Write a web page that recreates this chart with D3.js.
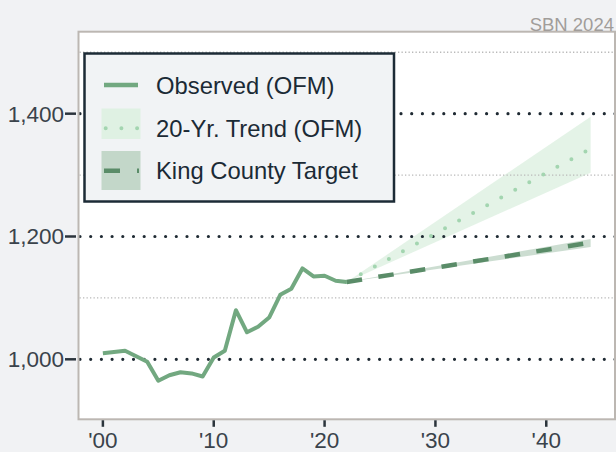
<!DOCTYPE html>
<html>
<head>
<meta charset="utf-8">
<script src="https://cdn.jsdelivr.net/npm/d3@7"></script>
<style>
  html, body { margin: 0; padding: 0; background: #f1f2f4; }
  svg { display: block; font-family: "Liberation Sans", Arial, sans-serif; }
</style>
</head>
<body>
<svg id="chart" width="616" height="452"></svg>
<script>
// ---- data ----
const years = [2000, 2001, 2002, 2003, 2004, 2005, 2006, 2007, 2008, 2009, 2010,
               2011, 2012, 2013, 2014, 2015, 2016, 2017, 2018, 2019, 2020, 2021, 2022];
const observed = [1010, 1012, 1014, 1005, 996, 965, 974, 979, 977, 972, 1003,
                  1014, 1080, 1044, 1053, 1068, 1105, 1115, 1148, 1135, 1136, 1128, 1126];

const trendYears = [2022, 2044];
const trendMid  = [1126, 1343];
const trendLow  = [1126, 1304];
const trendHigh = [1126, 1395];

const targetYears = [2022, 2044];
const targetMid  = [1126, 1190];
const targetLow  = [1126, 1183];
const targetHigh = [1126, 1196];

const xTicks = [2000, 2010, 2020, 2030, 2040];
const xTickLabels = ["'00", "'10", "'20", "'30", "'40"];
const yMajor = [1000, 1200, 1400];
const yMajorLabels = ["1,000", "1,200", "1,400"];
const yMinor = [1100, 1300, 1500];

const legendLabels = ["Observed (OFM)", "20-Yr. Trend (OFM)", "King County Target"];
const sourceNote = "SBN 2024";

// ---- layout ----
const plot = { left: 78.5, right: 615, top: 31.7, bottom: 419.3 };
const svg = d3.select("#chart");

const x = d3.scaleLinear().domain([1997.8, 2046.2]).range([plot.left, plot.right]);
const y = d3.scaleLinear().domain([902.3, 1533.5]).range([plot.bottom, plot.top]);

// plot background
svg.append("rect")
  .attr("x", plot.left).attr("y", plot.top)
  .attr("width", plot.right - plot.left).attr("height", plot.bottom - plot.top)
  .attr("fill", "#ffffff");

// bands
const band = (xs, lo, hi) => d3.area()
  .x((d, i) => x(xs[i])).y0((d, i) => y(lo[i])).y1((d, i) => y(hi[i]))(xs);

svg.append("path").attr("d", band(trendYears, trendLow, trendHigh))
  .attr("fill", "#dff1e3").attr("opacity", 0.85);
svg.append("path").attr("d", band(targetYears, targetLow, targetHigh))
  .attr("fill", "#c3d7c9").attr("opacity", 0.85);

// gridlines
svg.append("g").selectAll("line").data(yMinor).join("line")
  .attr("x1", plot.left + 1).attr("x2", plot.right)
  .attr("y1", d => y(d)).attr("y2", d => y(d))
  .attr("stroke", "#b9b9b9").attr("stroke-width", 1.3)
  .attr("stroke-dasharray", "1.3,2.2");

svg.append("g").selectAll("line").data(yMajor).join("line")
  .attr("x1", plot.left + 1.5).attr("x2", plot.right)
  .attr("y1", d => y(d)).attr("y2", d => y(d))
  .attr("stroke", "#1f2a33").attr("stroke-width", 3.2)
  .attr("stroke-linecap", "round")
  .attr("stroke-dasharray", "0,10.7");

// frame
svg.append("rect")
  .attr("x", plot.left).attr("y", plot.top)
  .attr("width", plot.right - plot.left).attr("height", plot.bottom - plot.top)
  .attr("fill", "none").attr("stroke", "#bcb7b2").attr("stroke-width", 2);

// lines
const lineGen = (xs, vs) => d3.line().x((d, i) => x(xs[i])).y((d, i) => y(vs[i]))(xs);

svg.append("path").attr("d", lineGen(trendYears, trendMid))
  .attr("fill", "none").attr("stroke", "#a3d5b0").attr("stroke-width", 4)
  .attr("stroke-linecap", "round").attr("stroke-dasharray", "0,16");

svg.append("path").attr("d", lineGen(targetYears, targetMid))
  .attr("fill", "none").attr("stroke", "#5a8c68").attr("stroke-width", 4.5)
  .attr("stroke-dasharray", "15.5,16.5");

svg.append("path").attr("d", lineGen(years, observed))
  .attr("fill", "none").attr("stroke", "#72a880").attr("stroke-width", 4)
  .attr("stroke-linejoin", "round");

// y axis
const yAxis = svg.append("g");
yAxis.selectAll("line").data(yMajor).join("line")
  .attr("x1", 65).attr("x2", 76)
  .attr("y1", d => y(d)).attr("y2", d => y(d))
  .attr("stroke", "#2b343c").attr("stroke-width", 2.5);
yAxis.selectAll("text").data(yMajor).join("text")
  .attr("x", 64).attr("y", d => y(d)).attr("dy", "0.35em")
  .attr("text-anchor", "end").attr("font-size", 22.5).attr("fill", "#3a434b")
  .text((d, i) => yMajorLabels[i]);

// x axis
const xAxis = svg.append("g");
xAxis.selectAll("line").data(xTicks).join("line")
  .attr("x1", d => x(d)).attr("x2", d => x(d))
  .attr("y1", plot.bottom + 1).attr("y2", plot.bottom + 7.5)
  .attr("stroke", "#2b343c").attr("stroke-width", 2.5);
xAxis.selectAll("text").data(xTicks).join("text")
  .attr("x", d => x(d)).attr("y", 448)
  .attr("text-anchor", "middle").attr("font-size", 22.5).attr("fill", "#3a434b")
  .text((d, i) => xTickLabels[i]);

// source note
svg.append("text").attr("x", 614).attr("y", 30.5)
  .attr("text-anchor", "end").attr("font-size", 18.5).attr("fill", "#a19d9a")
  .text(sourceNote);

// legend
const lg = svg.append("g");
lg.append("rect").attr("x", 84.5).attr("y", 53.5).attr("width", 309.5).attr("height", 148)
  .attr("fill", "#f1f3f5").attr("stroke", "#1c2b36").attr("stroke-width", 2.5);

const rowY = [85, 128.3, 170.7];
// observed swatch
lg.append("line").attr("x1", 104).attr("x2", 138).attr("y1", rowY[0]).attr("y2", rowY[0])
  .attr("stroke", "#72a880").attr("stroke-width", 4.5);
// trend swatch
lg.append("rect").attr("x", 101.5).attr("y", 108.5).attr("width", 39).attr("height", 30.5)
  .attr("fill", "#dff1e3");
lg.append("line").attr("x1", 105.7).attr("x2", 140).attr("y1", rowY[1]).attr("y2", rowY[1])
  .attr("stroke", "#a3d5b0").attr("stroke-width", 4).attr("stroke-linecap", "round")
  .attr("stroke-dasharray", "0,15.7");
// target swatch
lg.append("rect").attr("x", 101.5).attr("y", 151).attr("width", 39).attr("height", 39)
  .attr("fill", "#c3d7c9");
lg.append("line").attr("x1", 104).attr("x2", 139).attr("y1", rowY[2]).attr("y2", rowY[2])
  .attr("stroke", "#5a8c68").attr("stroke-width", 4.5).attr("stroke-dasharray", "16,17");

lg.selectAll("text.lbl").data(legendLabels).join("text").attr("class", "lbl")
  .attr("x", 156).attr("y", (d, i) => rowY[i]).attr("dy", "0.36em")
  .attr("font-size", 23.8).attr("fill", "#1b2a35")
  .text(d => d);
</script>
</body>
</html>
